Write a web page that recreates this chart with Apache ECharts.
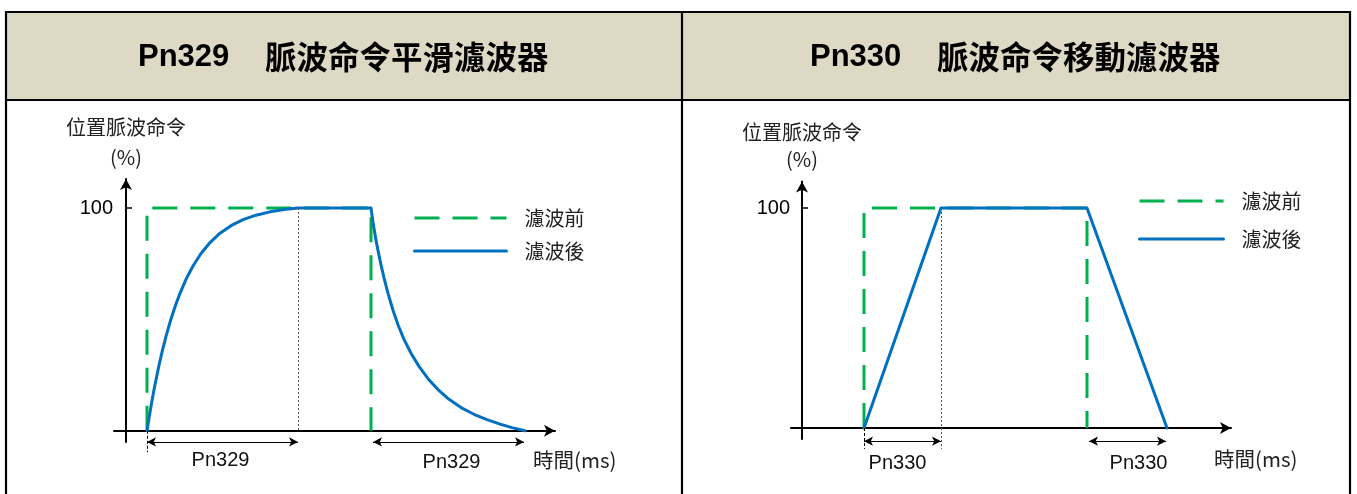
<!DOCTYPE html>
<html>
<head>
<meta charset="utf-8">
<script src="https://cdn.jsdelivr.net/npm/echarts@6/dist/echarts.min.js"></script>
<style>
html,body{margin:0;padding:0;background:#fff;}
#c{width:1357px;height:494px;}
</style>
</head>
<body>
<div id="c"></div>
<script>
// ---- data (time in ms-like units measured from the y axis, value in %) ----
const titles = ['Pn329', '脈波命令平滑濾波器', 'Pn330', '脈波命令移動濾波器'];
const seriesNames = ['濾波前', '濾波後'];
const yAxisTitle = '位置脈波命令\n(%)';
const xAxisTitle = '時間(ms)';
const yTicks = [100];

// Left panel (Pn329 smoothing filter)
const beforeL_T = [21, 21, 245, 245];
const beforeL_V = [0, 100, 100, 0];
const riseT = [21, 22, 23, 24, 26, 28, 30, 33, 36, 40, 44, 49, 54, 60, 67, 75, 84, 94, 105, 117, 130, 144, 158, 172];
const riseV = [0, 2.8, 5.6, 8.3, 13.5, 18.4, 22.9, 29.4, 35.3, 42.4, 48.7, 55.7, 61.7, 68, 74, 79.6, 84.5, 88.7, 92.1, 94.8, 96.8, 98.3, 99.3, 100];
const decayT = [245, 246, 247, 248, 250, 252, 255, 258, 262, 267, 272, 278, 285, 293, 302, 312, 323, 335, 348, 361, 374, 386, 399];
const decayV = [100, 96.7, 93.6, 90.8, 85.6, 80.9, 74.5, 68.7, 61.7, 54.1, 47.6, 41, 34.8, 28.9, 23.4, 18.5, 14.1, 10.4, 7.4, 5.0, 3.0, 1.4, 0];
const spanL1 = [21, 172];   // Pn329 (rise)
const spanL2 = [247, 398];  // Pn329 (fall)

// Right panel (Pn330 moving filter)
const beforeR_T = [62, 62, 285, 285];
const beforeR_V = [0, 100, 100, 0];
const afterR_T = [62, 139, 285, 365];
const afterR_V = [0, 100, 100, 0];
const spanR1 = [62, 139];   // Pn330 (rise)
const spanR2 = [287, 364];  // Pn330 (fall)

const zip = (t, v) => t.map((x, i) => [x, v[i]]);

const GREEN = '#00B050', BLUE = '#0070C0';
const LAT = 'Arial, "Liberation Sans", sans-serif';
const CJK = '"Noto Sans CJK TC", "Noto Sans CJK SC", sans-serif';
const DASH = [25, 13];

const chart = echarts.init(document.getElementById('c'), null, {renderer: 'canvas'});

function axisPair(idx, yMin, yMax, xMin, xMax, nameLH, nameGap) {
  const x = {
    type: 'value', gridIndex: idx, min: xMin, max: xMax,
    axisLine: {onZero: true, symbol: ['none', 'arrow'], symbolSize: [9, 11], lineStyle: {color: '#000', width: 2}},
    axisTick: {show: false}, axisLabel: {show: false}, splitLine: {show: false}
  };
  const y = {
    type: 'value', gridIndex: idx, min: yMin, max: yMax,
    name: yAxisTitle, nameLocation: 'end', nameGap: nameGap,
    nameTextStyle: {fontFamily: CJK, fontSize: 20, color: '#222', align: 'center', verticalAlign: 'bottom', lineHeight: nameLH},
    axisLine: {onZero: true, symbol: ['none', 'arrow'], symbolSize: [9, 11], lineStyle: {color: '#000', width: 2}},
    axisTick: {show: true, inside: true, length: 6, customValues: yTicks, lineStyle: {color: '#000', width: 1.5}},
    axisLabel: {show: true, customValues: yTicks, margin: 1, fontFamily: LAT, fontSize: 20, color: '#000'},
    splitLine: {show: false}
  };
  return [x, y];
}
function hiddenPair(idx, yMin, yMax, xMin, xMax) {
  const h = {show: false, type: 'value', gridIndex: idx, splitLine: {show: false}};
  return [Object.assign({min: xMin, max: xMax}, h), Object.assign({min: yMin, max: yMax}, h)];
}
const [xL, yL] = axisPair(0, -5, 113, -12, 429, 30, 7);
const [xR, yR] = axisPair(1, -5, 112, -11, 429, 27, 9);
// helper axes with identical pixel scale but wider range (for marks below the time axis)
const [xL2, yL2] = hiddenPair(2, -12, 113, -12, 429);
const [xR2, yR2] = hiddenPair(3, -12, 112, -11, 429);

function guide(p1, p2, type, color) {
  return [{coord: p1, lineStyle: {type: type, color: color, width: 1}}, {coord: p2}];
}
function span(s, y, text, dist, pad) {
  return [{coord: [s[0], y], label: {formatter: text, distance: dist, padding: pad}}, {coord: [s[1], y]}];
}
const spanLabel = {show: true, position: 'insideMiddleBottom', distance: 8, fontFamily: LAT, fontSize: 20, color: '#111'};

function panelSeries(idx, hidx, before, after, guides, spans) {
  return [
    {name: seriesNames[0], type: 'line', xAxisIndex: idx, yAxisIndex: idx, data: before,
     symbol: 'none', silent: true, clip: false, z: 3,
     lineStyle: {color: GREEN, width: 3, type: DASH}, itemStyle: {color: GREEN}},
    {name: seriesNames[1], type: 'line', xAxisIndex: idx, yAxisIndex: idx, data: after,
     symbol: 'none', silent: true, clip: false, z: 4, smooth: false,
     lineStyle: {color: BLUE, width: 3, join: 'round', cap: 'round'}, itemStyle: {color: BLUE}},
    {name: 'guides' + idx, type: 'line', xAxisIndex: hidx, yAxisIndex: hidx, data: [], silent: true, clip: false, z: 2,
     markLine: {silent: true, symbol: ['none', 'none'], label: {show: false}, animation: false, data: guides}},
    {name: 'spans' + idx, type: 'line', xAxisIndex: hidx, yAxisIndex: hidx, data: [], silent: true, clip: false, z: 2,
     markLine: {silent: true, symbol: ['arrow', 'arrow'], symbolSize: [7, 9], animation: false,
       lineStyle: {color: '#000', width: 1.2, type: 'solid'}, label: spanLabel, data: spans}}
  ];
}

const series = [].concat(
  panelSeries(0, 2, zip(beforeL_T, beforeL_V), zip(riseT, riseV).concat(zip(decayT, decayV)),
    [guide([spanL1[1], 100], [spanL1[1], 0], [2, 2], '#555'),
     guide([spanL1[0], 0], [spanL1[0], -9.6], [3, 2], '#000')],
    [span(spanL1, -5, titles[0], 9, [0, 4, 0, 0]), span(spanL2, -5, titles[0], 11, [0, 0, 0, 6])]),
  panelSeries(1, 3, zip(beforeR_T, beforeR_V), zip(afterR_T, afterR_V),
    [guide([spanR1[1], 100], [spanR1[1], -9.5], [2, 2], '#555'),
     guide([spanR1[0], 0], [spanR1[0], -9.5], [3, 2], '#000')],
    [span(spanR1, -6, titles[2], 12, [0, 10, 0, 0]), span(spanR2, -6, titles[2], 12, [0, 0, 0, 22])])
);

const legendBase = {orient: 'vertical', padding: 0, itemHeight: 20, selectedMode: false,
  itemStyle: {opacity: 0}, lineStyle: {width: 3},
  data: seriesNames, textStyle: {fontFamily: CJK, fontSize: 20, color: '#222', lineHeight: 20, padding: [0, 0, 0, 13]}};

const LS = 2.227, RS = 2.2; // px per % unit in the two panels
const option = {
  animation: false,
  backgroundColor: '#fff',
  grid: [
    {left: 114, top: 179.1, width: 441, height: 118 * LS, containLabel: false, outerBoundsMode: 'none'},
    {left: 791, top: 181.6, width: 440, height: 117 * RS, containLabel: false, outerBoundsMode: 'none'},
    {left: 114, top: 179.1, width: 441, height: 125 * LS, containLabel: false, outerBoundsMode: 'none'},
    {left: 791, top: 181.6, width: 440, height: 124 * RS, containLabel: false, outerBoundsMode: 'none'}
  ],
  xAxis: [xL, xR, xL2, xR2],
  yAxis: [yL, yR, yL2, yR2],
  legend: [
    Object.assign({}, legendBase, {left: 413, top: 208, itemWidth: 92, itemGap: 13}),
    Object.assign({}, legendBase, {left: 1138, top: 191, itemWidth: 84, itemGap: 18})
  ],
  graphic: [
    {type: 'rect', silent: true, z: -10, shape: {x: 6, y: 12, width: 676, height: 88}, style: {fill: '#DDD9C4'}},
    {type: 'rect', silent: true, z: -10, shape: {x: 682, y: 12, width: 668, height: 88}, style: {fill: '#DDD9C4'}},
    {type: 'rect', silent: true, z: 10, shape: {x: 6, y: 12, width: 1344, height: 500}, style: {fill: null, stroke: '#000', lineWidth: 2.2}},
    {type: 'line', silent: true, z: 10, shape: {x1: 6, y1: 100, x2: 1350, y2: 100}, style: {stroke: '#000', lineWidth: 2.2}},
    {type: 'line', silent: true, z: 10, shape: {x1: 682, y1: 12, x2: 682, y2: 494}, style: {stroke: '#000', lineWidth: 2.2}},
    {type: 'text', silent: true, z: 11, x: 138, y: 57, style: {text: titles[0], font: 'bold 31px ' + LAT, fill: '#000', verticalAlign: 'middle'}},
    {type: 'text', silent: true, z: 11, x: 265, y: 57, style: {text: titles[1], font: 'bold 31.5px ' + CJK, fill: '#000', verticalAlign: 'middle'}},
    {type: 'text', silent: true, z: 11, x: 810, y: 57, style: {text: titles[2], font: 'bold 31px ' + LAT, fill: '#000', verticalAlign: 'middle'}},
    {type: 'text', silent: true, z: 11, x: 937, y: 57, style: {text: titles[3], font: 'bold 31.5px ' + CJK, fill: '#000', verticalAlign: 'middle'}},
    {type: 'text', silent: true, z: 11, x: 533, y: 460, style: {text: xAxisTitle, font: '20.5px ' + CJK, fill: '#222', verticalAlign: 'middle'}},
    {type: 'text', silent: true, z: 11, x: 1214, y: 459, style: {text: xAxisTitle, font: '20.5px ' + CJK, fill: '#222', verticalAlign: 'middle'}}
  ],
  series: series
};
chart.setOption(option);
</script>
</body>
</html>
